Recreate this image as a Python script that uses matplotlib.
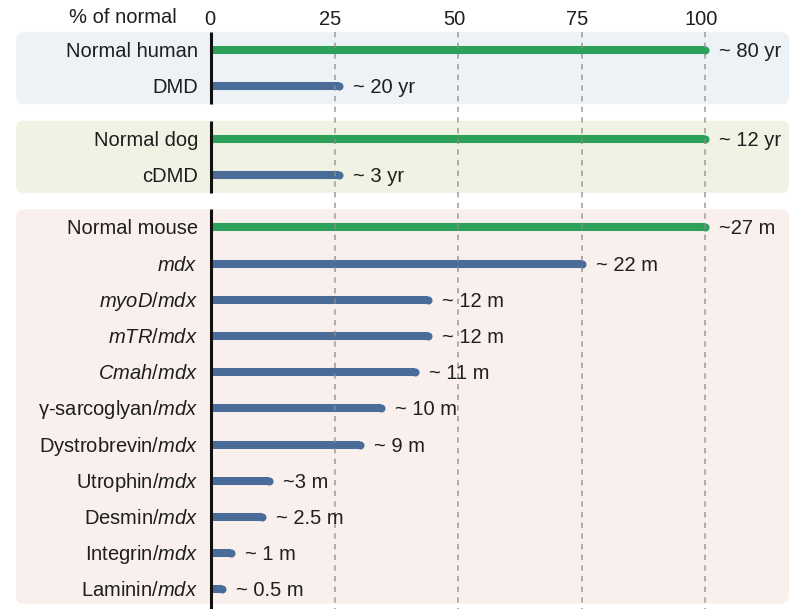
import matplotlib
matplotlib.use("Agg")
import matplotlib.pyplot as plt
from matplotlib.patches import FancyBboxPatch

plt.rcParams["font.family"] = ["Liberation Sans", "DejaVu Sans"]
plt.rcParams["mathtext.fontset"] = "custom"
plt.rcParams["mathtext.it"] = "Liberation Sans:italic"
plt.rcParams["mathtext.rm"] = "Liberation Sans"

# ---------------- data ----------------
labels = [
    "Normal human", "DMD",
    "Normal dog", "cDMD",
    "Normal mouse", r"$\mathit{mdx}$", r"$\mathit{myoD}$/$\mathit{mdx}$",
    r"$\mathit{mTR}$/$\mathit{mdx}$", r"$\mathit{Cmah}$/$\mathit{mdx}$",
    r"γ-sarcoglyan/$\mathit{mdx}$", r"Dystrobrevin/$\mathit{mdx}$",
    r"Utrophin/$\mathit{mdx}$", r"Desmin/$\mathit{mdx}$",
    r"Integrin/$\mathit{mdx}$", r"Laminin/$\mathit{mdx}$",
]
percent_of_normal = [100, 26, 100, 26, 100, 75, 44, 44, 41.3, 34.4, 30.2,
                     11.7, 10.3, 4.0, 2.2]
lifespan_text = ["~ 80 yr", "~ 20 yr", "~ 12 yr", "~ 3 yr", "~27 m", "~ 22 m",
                 "~ 12 m", "~ 12 m", "~ 11 m", "~ 10 m", "~ 9 m", "~3 m",
                 "~ 2.5 m", "~ 1 m", "~ 0.5 m"]
is_normal = [True, False, True, False, True] + [False] * 10
group_sizes = [2, 2, 11]
tick_values = [0, 25, 50, 75, 100]
tick_labels = ["0", "25", "50", "75", "100"]
axis_title = "% of normal"

# ---------------- style ----------------
panel_colors = ["#EDF2F6", "#F0F3E4", "#F9F0EE"]
green = "#2DA05A"
blue = "#496D98"
text_color = "#1E1E1E"
fs = 14.5

W, H = 794, 609
X0_PX, PX_PER_X = 211, 4.94
Y0_PX, PX_PER_ROW = 50, 36.2
GROUP_GAP = 0.45

fig = plt.figure(figsize=(W / 100, H / 100), dpi=100)
ax = fig.add_axes([0, 0, 1, 1])
ax.set_xlim(-X0_PX / PX_PER_X, (W - X0_PX) / PX_PER_X)
ax.set_ylim((H - Y0_PX) / PX_PER_ROW, -Y0_PX / PX_PER_ROW)
ax.axis("off")


def px2y(py):
    return (py - Y0_PX) / PX_PER_ROW


def px2x(px):
    return (px - X0_PX) / PX_PER_X


# row positions
ypos = []
y = 0.0
for gi, n in enumerate(group_sizes):
    if gi > 0:
        y += GROUP_GAP
    for _ in range(n):
        ypos.append(y)
        y += 1

# panels + black zero axis per panel
start = 0
ymax = ax.get_ylim()[0]
for gi, n in enumerate(group_sizes):
    top = ypos[start] - 0.5
    bottom = ypos[start + n - 1] + (0.5 if gi < len(group_sizes) - 1 else 0.4)
    x0, x1 = px2x(16), px2x(789)
    patch = FancyBboxPatch((x0, top), x1 - x0, bottom - top,
                           boxstyle=f"round,pad=0,rounding_size={8 / PX_PER_X}",
                           mutation_aspect=PX_PER_X / PX_PER_ROW,
                           fc=panel_colors[gi], ec="none", zorder=0)
    ax.add_patch(patch)
    seg_bottom = bottom if gi < len(group_sizes) - 1 else ymax
    ax.plot([0, 0], [top, seg_bottom], color="#111111", lw=2.2,
            solid_capstyle="butt", zorder=5)
    start += n

# dashed reference lines
for t in tick_values[1:]:
    ax.plot([t, t], [px2y(32), ymax], color="#8C8C8C", lw=1.2,
            ls=(0, (3.2, 3.2)), alpha=0.8, zorder=3)

# bars
lw = 5.8
for yy, v, normal in zip(ypos, percent_of_normal, is_normal):
    c = green if normal else blue
    ax.plot([0, v], [yy, yy], color=c, lw=lw, solid_capstyle="butt", zorder=2)
    ax.plot([v], [yy], "o", color=c, ms=lw, mew=0, zorder=2)

# text
base_off = 7  # pixels from row centre to baseline
for yy, v, lab, ann in zip(ypos, percent_of_normal, labels, lifespan_text):
    ax.annotate(lab, (0, yy), xytext=(-13, -base_off), textcoords="offset pixels",
                ha="right", va="baseline", fontsize=fs, color=text_color)
    ax.annotate(ann, (v, yy), xytext=(14, -base_off), textcoords="offset pixels",
                ha="left", va="baseline", fontsize=fs, color=text_color)

for t, tl in zip(tick_values, tick_labels):
    ax.annotate(tl, (t, px2y(25)), xytext=(-4 if t else -1, 0),
                textcoords="offset pixels", ha="center", va="baseline",
                fontsize=fs, color=text_color)
ax.annotate(axis_title, (0, px2y(23)), xytext=(-34, 0), textcoords="offset pixels",
            ha="right", va="baseline", fontsize=fs, color=text_color)

fig.savefig("out.png", dpi=100, facecolor="white")
